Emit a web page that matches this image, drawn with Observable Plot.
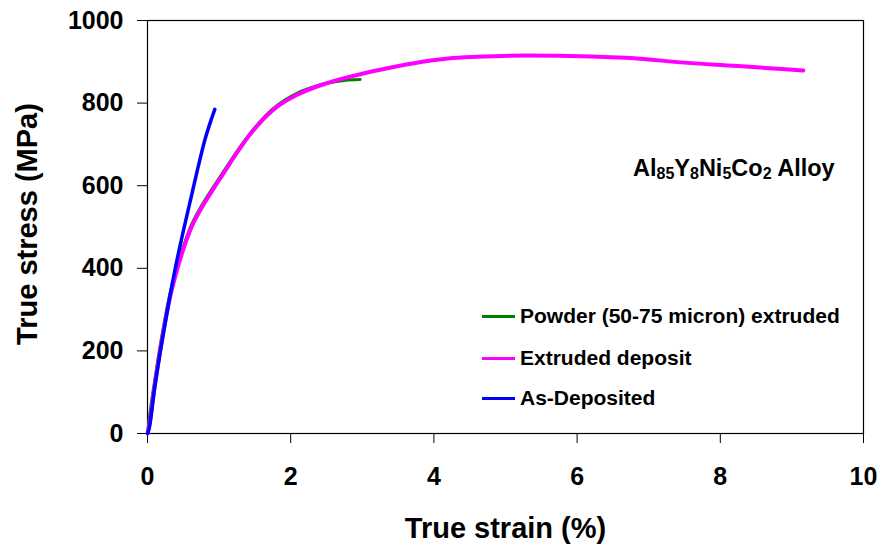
<!DOCTYPE html>
<html>
<head>
<meta charset="utf-8">
<script src="https://cdn.jsdelivr.net/npm/d3@7"></script>
<script src="https://cdn.jsdelivr.net/npm/@observablehq/plot@0.6"></script>
<style>
  html, body { margin: 0; padding: 0; background: #fff; }
  #wrap { position: relative; width: 880px; height: 550px; font-family: "Liberation Sans", Arial, sans-serif; font-weight: bold; color: #000; }
  #wrap svg { position: absolute; left: 0; top: 0; }
  .leg { position: absolute; left: 482px; font-size: 21px; line-height: 1; white-space: nowrap; }
  .leg .sw { display: inline-block; width: 33px; height: 3px; vertical-align: middle; margin-right: 5px; position: relative; top: -1px; }
  #anno { position: absolute; left: 633px; top: 157px; font-size: 23.5px; white-space: nowrap; line-height: 1; }
  #anno sub { font-size: 16px; vertical-align: -3px; line-height: 0; }
</style>
</head>
<body>
<div id="wrap"></div>
<script>
// ---- data ----
const xTicks = [0, 2, 4, 6, 8, 10];
const yTicks = [0, 200, 400, 600, 800, 1000];

const seriesNames = ["Powder (50-75 micron) extruded", "Extruded deposit", "As-Deposited"];
const seriesColors = ["#008000", "#ff00ff", "#0000ff"];

const powderStrain = [0, 0.02, 0.1, 0.2, 0.3, 0.4, 0.5, 0.6, 0.75, 0.9, 1.05, 1.25, 1.45, 1.75, 2.1, 2.35, 2.55, 2.75, 2.97];
const powderStress = [0, 30, 128, 236, 328, 396, 452, 500, 550, 592, 631, 683, 730, 786, 825, 841, 850, 855, 857];

const extrudedStrain = [0, 0.02, 0.1, 0.2, 0.3, 0.4, 0.5, 0.6, 0.75, 0.9, 1.05, 1.25, 1.45, 1.75, 2.1, 2.5, 3.0, 3.4, 3.8, 4.2, 4.6, 5.3, 6.2, 6.75, 7.5, 8.3, 9.16];
const extrudedStress = [0, 15, 115, 225, 318, 388, 446, 494, 545, 587, 627, 680, 728, 783, 821, 848, 871, 886, 899, 908, 912, 915, 913, 909, 898, 889, 879];

const asDepStrain = [0, 0.02, 0.1, 0.2, 0.3, 0.4, 0.5, 0.6, 0.7, 0.8, 0.9, 0.94];
const asDepStress = [0, 10, 110, 220, 320, 410, 490, 565, 640, 710, 765, 785];

const xLabel = "True strain (%)";
const yLabel = "True stress (MPa)";

// ---- build ----
const toRows = (xs, ys) => xs.map((x, i) => ({x, y: ys[i]}));
const powder = toRows(powderStrain, powderStress);
const extruded = toRows(extrudedStrain, extrudedStress);
const asDep = toRows(asDepStrain, asDepStress);

const FONT = "'Liberation Sans', Arial, sans-serif";

const chart = Plot.plot({
  width: 880,
  height: 550,
  marginLeft: 147,
  marginRight: 17,
  marginTop: 20,
  marginBottom: 117,
  style: {fontFamily: FONT, fontSize: "25px", fontWeight: "bold", color: "#000", background: "#fff"},
  x: {domain: [0, 10], ticks: xTicks, tickSize: 10, tickPadding: 24, tickFormat: d => String(d), label: null},
  y: {domain: [0, 1000], ticks: yTicks, tickSize: 10, tickPadding: 14, tickFormat: d => String(d), label: null},
  marks: [
    Plot.frame({stroke: "#000", strokeWidth: 1.2}),
    Plot.line(powder, {x: "x", y: "y", stroke: seriesColors[0], strokeWidth: 3, curve: "monotone-x"}),
    Plot.line(extruded, {x: "x", y: "y", stroke: seriesColors[1], strokeWidth: 4, curve: "monotone-x"}),
    Plot.line(asDep, {x: "x", y: "y", stroke: seriesColors[2], strokeWidth: 3.5, curve: "monotone-x"}),
    Plot.text([xLabel], {frameAnchor: "bottom", dy: 95, text: d => d, fontSize: 29, fontWeight: "bold", fontFamily: FONT, lineAnchor: "middle", textAnchor: "middle"}),
    Plot.text([yLabel], {frameAnchor: "left", dx: -120, dy: -3, text: d => d, rotate: -90, fontSize: 29, fontWeight: "bold", fontFamily: FONT, lineAnchor: "middle", textAnchor: "middle"})
  ]
});

const wrap = document.getElementById("wrap");
wrap.appendChild(chart);

// legend overlay
const legendTops = [305, 347, 387];
seriesNames.forEach((name, i) => {
  const d = document.createElement("div");
  d.className = "leg";
  d.style.top = legendTops[i] + "px";
  const sw = document.createElement("span");
  sw.className = "sw";
  sw.style.background = seriesColors[i];
  d.appendChild(sw);
  d.appendChild(document.createTextNode(name));
  wrap.appendChild(d);
});

// annotation
const anno = document.createElement("div");
anno.id = "anno";
anno.innerHTML = "Al<sub>85</sub>Y<sub>8</sub>Ni<sub>5</sub>Co<sub>2</sub> Alloy";
wrap.appendChild(anno);
</script>
</body>
</html>
